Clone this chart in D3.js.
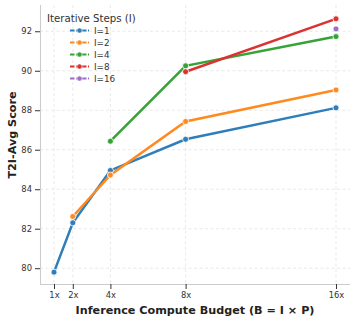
<!DOCTYPE html>
<html><head><meta charset="utf-8">
<script src="https://cdn.jsdelivr.net/npm/d3@7"></script>
<style>body{margin:0;background:#fff}svg{display:block;font-family:"DejaVu Sans",sans-serif}</style>
</head><body><svg id="c" width="357" height="323"></svg>
<script>
const budgets = [1, 2, 4, 8, 16];
const xTickLabels = ["1x", "2x", "4x", "8x", "16x"];
const yTicks = [80, 82, 84, 86, 88, 90, 92];
const seriesNames = ["I=1", "I=2", "I=4", "I=8", "I=16"];
const seriesColors = ["#2e7ebc", "#ff8a1f", "#36a337", "#d93332", "#9c6ec7"];
const s1 = [[1, 79.8], [2, 82.3], [4, 84.95], [8, 86.53], [16, 88.12]];
const s2 = [[2, 82.62], [4, 84.72], [8, 87.43], [16, 89.03]];
const s4 = [[4, 86.43], [8, 90.25], [16, 91.73]];
const s8 = [[8, 89.95], [16, 92.63]];
const s16 = [[16, 92.12]];
const seriesData = [s1, s2, s4, s8, s16];

const svg = d3.select("#c");
const L = 40, R = 350, T = 5, B = 284;
const x = d3.scaleLinear().domain([0.255, 16.745]).range([L, R]);
const y = d3.scaleLinear().domain([79.2, 93.33]).range([B, T]);

// grid
const g = svg.append("g");
g.selectAll(".gx").data(budgets).enter().append("line")
  .attr("x1", d => x(d)).attr("x2", d => x(d)).attr("y1", T).attr("y2", B)
  .attr("stroke", "#e3e3e3").attr("stroke-width", 0.8).attr("stroke-dasharray", "3,2.5");
g.selectAll(".gy").data(yTicks).enter().append("line")
  .attr("x1", L).attr("x2", R).attr("y1", d => y(d)).attr("y2", d => y(d))
  .attr("stroke", "#e3e3e3").attr("stroke-width", 0.8).attr("stroke-dasharray", "3,2.5");

// axes
const xAxis = d3.axisBottom(x).tickValues(budgets).tickFormat((d, i) => xTickLabels[i]).tickSize(5).tickPadding(3);
const yAxis = d3.axisLeft(y).tickValues(yTicks).tickSize(5).tickPadding(3);
const xa = svg.append("g").attr("transform", `translate(0,${B})`).call(xAxis);
const ya = svg.append("g").attr("transform", `translate(${L},0)`).call(yAxis);
[xa, ya].forEach(a => {
  a.select(".domain").attr("stroke", "#cccccc").attr("stroke-width", 1.1);
  a.selectAll(".tick line").attr("stroke", "#333").attr("stroke-width", 1);
  a.selectAll(".tick text").attr("fill", "#333").style("font-size", "8.4px").style("font-family", "DejaVu Sans");
});
xa.select(".domain").attr("d", `M${L},0.5H${R}`);
ya.select(".domain").attr("d", `M0.5,${B}V${T}`);

// lines
const line = d3.line().x(d => x(d[0])).y(d => y(d[1]));
seriesData.forEach((s, i) => {
  svg.append("path").datum(s).attr("d", line).attr("fill", "none")
    .attr("stroke", seriesColors[i]).attr("stroke-width", 2.5).attr("stroke-linecap", "round");
});
seriesData.forEach((s, i) => {
  svg.selectAll(null).data(s).enter().append("circle")
    .attr("cx", d => x(d[0])).attr("cy", d => y(d[1])).attr("r", 3)
    .attr("fill", seriesColors[i]).attr("stroke", "#fff").attr("stroke-width", 0.8);
});

// axis titles
svg.append("text").attr("x", 195).attr("y", 314).attr("text-anchor", "middle")
  .style("font-size", "11.2px").style("font-weight", "bold").attr("fill", "#222")
  .text("Inference Compute Budget (B = I × P)");
svg.append("text").attr("transform", `translate(15.5,135) rotate(-90)`).attr("text-anchor", "middle")
  .style("font-size", "11.2px").style("font-weight", "bold").attr("fill", "#222")
  .text("T2I-Avg Score");

// legend
const lg = svg.append("g");
lg.append("text").attr("x", 47).attr("y", 21.5).style("font-size", "10.2px").attr("fill", "#333").text("Iterative Steps (I)");
seriesNames.forEach((n, i) => {
  const cy = 30.5 + i * 12;
  lg.append("line").attr("x1", 70).attr("x2", 89).attr("y1", cy).attr("y2", cy)
    .attr("stroke", seriesColors[i]).attr("stroke-width", 2).attr("stroke-dasharray", "4.5,1.5");
  lg.append("circle").attr("cx", 79.5).attr("cy", cy).attr("r", 2.6).attr("fill", seriesColors[i])
    .attr("stroke", "#fff").attr("stroke-width", 0.6);
  lg.append("text").attr("x", 94).attr("y", cy + 3).style("font-size", "8.8px").attr("fill", "#333").text(n);
});
</script></body></html>
